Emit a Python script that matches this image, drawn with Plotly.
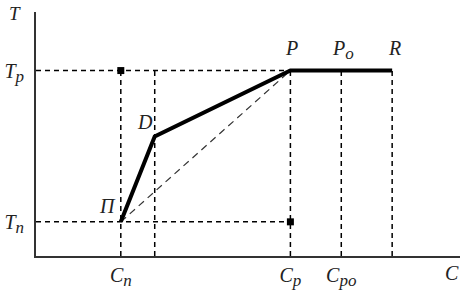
import plotly.graph_objects as go

# Concentration positions (arbitrary units) and temperature levels
c_n, c_d, c_p, c_po, c_r = 2.0, 2.8, 6.0, 7.2, 8.4
t_n, t_d, t_p = 1.4, 4.9, 7.6

curve_x = [c_n, c_d, c_p, c_r]
curve_y = [t_n, t_d, t_p, t_p]

vert_x = [c_n, c_d, c_p, c_po, c_r]


def sub(base, s):
    return f"<i>{base}<sub><span style='font-size:17px'>{s}</span></sub></i>"


x_tick_vals = [c_n, c_p, c_po]
x_tick_text = [sub("C", "n"), sub("C", "p"), sub("C", "po")]
y_tick_vals = [t_p, t_n]
y_tick_text = [sub("T", "p"), sub("T", "n")]

point_labels = [
    ("<i>Π</i>", c_n, t_n, -13, 16),
    ("<i>D</i>", c_d, t_d, -10, 14),
    ("<i>P</i>", c_p, t_p, 1, 23),
    (sub("P", "o"), c_po, t_p, 2, 21),
    ("<i>R</i>", c_r, t_p, 2, 23),
]

FONT = "Liberation Serif"
dash_style = dict(color="black", width=1.5, dash="5px,4px")

fig = go.Figure()

# vertical dashed guides
for xv in vert_x:
    fig.add_trace(go.Scatter(x=[xv, xv], y=[0, t_p], mode="lines",
                             line=dash_style, hoverinfo="skip"))
# horizontal dashed guides
fig.add_trace(go.Scatter(x=[0, c_p], y=[t_p, t_p], mode="lines", line=dash_style, hoverinfo="skip"))
fig.add_trace(go.Scatter(x=[0, c_p], y=[t_n, t_n], mode="lines", line=dash_style, hoverinfo="skip"))
# diagonal dashed
fig.add_trace(go.Scatter(x=[c_n, c_p], y=[t_n, t_p], mode="lines",
                         line=dict(color="#333", width=1.2, dash="7px,5px"), hoverinfo="skip"))
# square markers
fig.add_trace(go.Scatter(x=[c_n, c_p], y=[t_p, t_n], mode="markers",
                         marker=dict(symbol="square", size=7, color="black"), hoverinfo="skip"))
# main thick curve
fig.add_trace(go.Scatter(x=curve_x, y=curve_y, mode="lines",
                         line=dict(color="black", width=4), hoverinfo="skip"))

for txt, xv, yv, xs, ys in point_labels:
    fig.add_annotation(x=xv, y=yv, text=txt, showarrow=False, xshift=xs, yshift=ys,
                       font=dict(family=FONT, size=20, color="#222"))

fig.add_annotation(x=0, y=10, text="<i>T</i>", showarrow=False, xshift=-21, yshift=-1,
                   font=dict(family=FONT, size=19, color="#222"))
fig.add_annotation(x=9.81, y=0, text="<i>C</i>", showarrow=False, yshift=-17,
                   font=dict(family=FONT, size=20, color="#222"))

fig.update_layout(
    width=471, height=292,
    margin=dict(l=36, r=11, t=12, b=36),
    paper_bgcolor="white", plot_bgcolor="white",
    showlegend=False,
    xaxis=dict(range=[0, 10], showgrid=False, zeroline=False, showline=True, automargin=False,
               linecolor="#333", linewidth=2, tickvals=x_tick_vals, ticktext=x_tick_text,
               ticks="", tickfont=dict(family=FONT, size=20, color="#222")),
    yaxis=dict(range=[0, 10], showgrid=False, zeroline=False, showline=True, automargin=False,
               linecolor="#333", linewidth=2, tickvals=y_tick_vals, ticktext=y_tick_text,
               ticks="", ticklabelstandoff=6, tickfont=dict(family=FONT, size=20, color="#222")),
)

fig.write_html("out.html", config={"displayModeBar": False},
               post_script="document.body.style.margin='0px';")
